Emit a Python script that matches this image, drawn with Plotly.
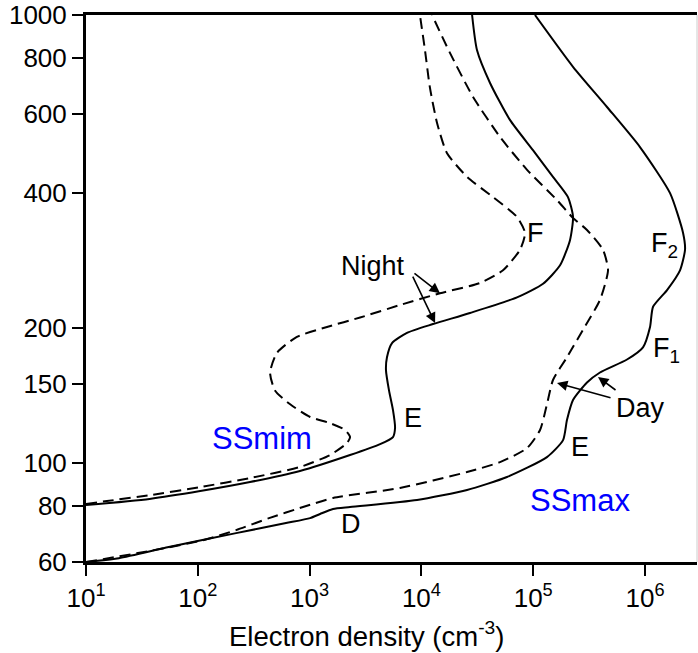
import math
import plotly.graph_objects as go

# Electron density profiles (cm^-3) versus altitude (km)
# Solar minimum, daytime
min_day_density = [10, 37, 105, 293, 820, 2300, 4270, 5570, 5810, 5570, 5130, 4820,
                   4920, 5460, 7430, 12700, 27200, 71600, 122500, 173800, 213300,
                   227000, 204600, 150300, 99500, 61900, 41100, 31400, 28400]
min_day_alt = [80.4, 83.0, 86.4, 90.5, 95.8, 104.0, 110.0, 114.1, 119.5, 131, 145, 161,
               172, 185, 195, 204, 216, 234, 251, 276, 314,
               354, 392, 435, 499, 583, 705, 835, 1000]

# Solar minimum, nighttime
min_night_density = [10, 15.4, 37, 105, 293, 820, 1520, 2160, 2300, 2075, 1520, 1010,
                     670, 490, 443, 511, 770, 1430, 2830, 6440, 14660, 33400, 53700,
                     76200, 84500, 71600, 43650, 25600, 16900, 13800, 11900, 10760, 9700]
min_night_alt = [80.8, 82.1, 84.6, 88.2, 92.4, 97.8, 104.0, 110.6, 114.1, 118.3, 122.6, 126.5,
                 135, 145, 159, 176, 191, 201, 211, 225, 239, 252, 269,
                 299, 326, 354, 392, 435, 492, 574, 690, 835, 1000]

# Solar maximum, daytime
max_day_density = [10, 19.7, 55, 220, 615, 1010, 1240, 1620, 2300, 9140, 25600, 58300,
                   132700, 184900, 200400, 227000, 302700, 395400, 690200, 959400,
                   1.109e6, 1.18e6, 1.574e6, 2.056e6, 2.28e6, 2.19e6, 1.675e6,
                   901600, 457100, 227000, 103700]
max_day_alt = [60, 61.2, 64.8, 69.6, 73.3, 75.2, 76.8, 78.8, 79.6, 82.5, 86.9, 92.9,
               102.9, 112.3, 124.5, 138, 151, 159, 170, 181,
               201, 223, 243, 269, 299, 326, 400,
               507, 623, 766, 1000]

# Solar maximum, nighttime
max_night_density = [10, 37, 111, 220, 434, 873, 1620, 6440, 25600, 50500, 88100, 115100,
                     132700, 150300, 200400, 278600, 395400, 466700, 420700, 302700,
                     227000, 163300, 88100, 50500, 29000, 18000, 12450]
max_night_alt = [60, 63.5, 67.1, 70.7, 75.2, 79.6, 83.4, 87.8, 95.3, 100.3, 107.8, 118.3,
                 135, 153, 172, 198, 231, 269, 299, 331,
                 352, 386, 451, 534, 656, 823, 1000]

x_tick_vals = [10, 100, 1000, 10000, 100000, 1000000]
x_tick_text = ["10<sup>1</sup>", "10<sup>2</sup>", "10<sup>3</sup>",
               "10<sup>4</sup>", "10<sup>5</sup>", "10<sup>6</sup>"]
y_tick_vals = [60, 80, 100, 150, 200, 400, 600, 800, 1000]
y_tick_text = ["60", "80", "100", "150", "200", "400", "600", "800", "1000"]

FONT = "Liberation Sans, Arial, Helvetica, sans-serif"
LINE_W = 2

fig = go.Figure()
series = [
    (min_day_density, min_day_alt, "solid", "SSmin day"),
    (min_night_density, min_night_alt, "11px,6px", "SSmin night"),
    (max_day_density, max_day_alt, "solid", "SSmax day"),
    (max_night_density, max_night_alt, "11px,6px", "SSmax night"),
]
for xs, ys, dash, name in series:
    fig.add_trace(go.Scatter(
        x=xs, y=ys, mode="lines", name=name,
        line=dict(color="black", width=LINE_W, dash=dash, shape="spline", smoothing=0.6),
        hoverinfo="x+y",
    ))


def L(v):
    return math.log10(v)


annotations = []


def label(text, dens, alt, size=27, color="black"):
    annotations.append(dict(
        x=L(dens), y=L(alt), xref="x", yref="y", text=text, showarrow=False,
        font=dict(family=FONT, size=size, color=color),
        xanchor="center", yanchor="middle",
    ))


def arrow(dens, alt, ax, ay):
    annotations.append(dict(
        x=L(dens), y=L(alt), xref="x", yref="y", text="", showarrow=True,
        ax=ax, ay=ay, arrowhead=2, arrowsize=1.3, arrowwidth=1.6,
        arrowcolor="black", standoff=0, startstandoff=0,
    ))


label("Night", 3690, 275)
arrow(14660, 239, -27, -21)
arrow(13250, 205, -23, -48)
label("F", 104000, 326)
label("F<sub>2</sub>", 1.5e6, 306)
label("F<sub>1</sub>", 1.55e6, 178.5)
label("Day", 920000, 132.4)
arrow(163300, 150.6, 55, 15)
arrow(380000, 155.3, 19, 14)
label("E", 8400, 125.8)
label("E", 262000, 108.4)
label("D", 2340, 72.9)
label("SSmim", 375, 113.5, size=31, color="#0000ff")
label("SSmax", 262000, 82.5, size=31, color="#0000ff")

# axis title
annotations.append(dict(
    x=0.4585, y=-0.133, xref="paper", yref="paper",
    text="Electron density (cm<sup>-3</sup>)", showarrow=False,
    font=dict(family=FONT, size=27.5, color="black"),
    xanchor="center", yanchor="middle",
))

fig.update_layout(
    width=698, height=653,
    margin=dict(l=86, r=1, t=15, b=91),
    paper_bgcolor="white", plot_bgcolor="white",
    showlegend=False,
    annotations=annotations,
    font=dict(family=FONT, size=26, color="black"),
    shapes=[dict(type="line", xref="paper", yref="paper", x0=1, x1=1, y0=0, y1=1,
                 line=dict(color="#cccccc", width=1))],
)
fig.update_xaxes(
    type="log", range=[1, 6.465],
    tickvals=x_tick_vals, ticktext=x_tick_text,
    ticks="outside", ticklen=11, tickwidth=2, tickcolor="black",
    showline=True, linecolor="black", linewidth=3, mirror=True,
    showgrid=False, zeroline=False,
    tickfont=dict(family=FONT, size=26, color="black"),
)
fig.update_yaxes(
    type="log", range=[math.log10(60), 3],
    tickvals=y_tick_vals, ticktext=y_tick_text,
    ticks="outside", ticklen=11, tickwidth=2, tickcolor="black",
    showline=True, linecolor="black", linewidth=3, mirror=False,
    showgrid=False, zeroline=False,
    tickfont=dict(family=FONT, size=26, color="black"),
)

fig.write_html("out.html")
